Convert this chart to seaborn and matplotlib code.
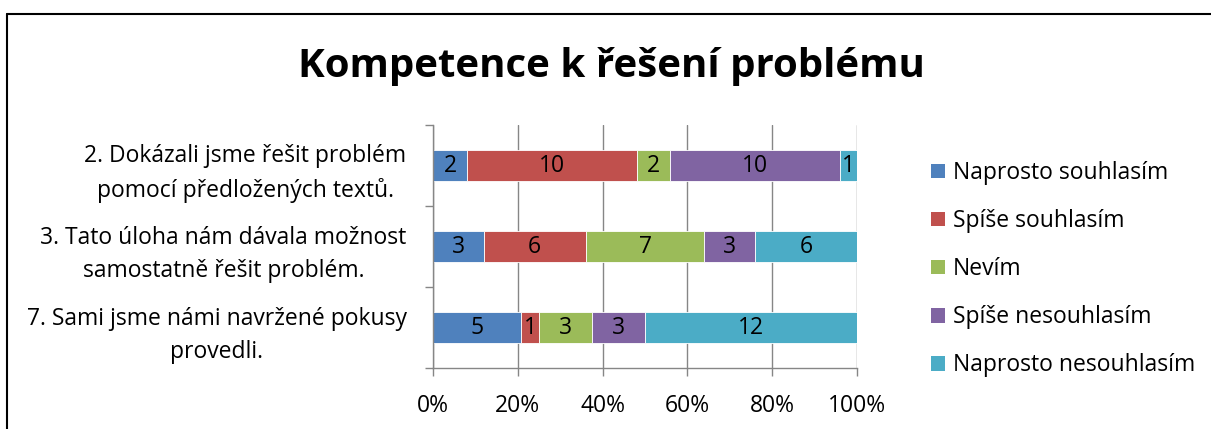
import pandas as pd
import matplotlib.pyplot as plt
import seaborn as sns
from matplotlib.lines import Line2D
from matplotlib.patches import Patch

# data
questions = [
    "2. Dokázali jsme řešit problém\npomocí předložených textů.",
    "3. Tato úloha nám dávala možnost\nsamostatně řešit problém.",
    "7. Sami jsme námi navržené pokusy\nprovedli.",
]
answers = ["Naprosto souhlasím", "Spíše souhlasím", "Nevím",
           "Spíše nesouhlasím", "Naprosto nesouhlasím"]
naprosto_souhlasim = [2, 3, 5]
spise_souhlasim = [10, 6, 1]
nevim = [2, 7, 3]
spise_nesouhlasim = [10, 3, 3]
naprosto_nesouhlasim = [1, 6, 12]
xtick_labels = ["0%", "20%", "40%", "60%", "80%", "100%"]

colors = ["#4F81BD", "#C0504D", "#9BBB59", "#8064A2", "#4BACC6"]

series = [naprosto_souhlasim, spise_souhlasim, nevim, spise_nesouhlasim, naprosto_nesouhlasim]
rows = []
for a, vals in zip(answers, series):
    for q, v in zip(questions, vals):
        rows.append({"question": q, "answer": a, "count": v})
df = pd.DataFrame(rows)
totals = df.groupby("question")["count"].sum()

sns.set_style("white")
plt.rcParams['font.family'] = ['Open Sans', 'DejaVu Sans']
plt.rcParams['text.color'] = 'black'
plt.rcParams['xtick.labelcolor'] = 'black'
plt.rcParams['ytick.labelcolor'] = 'black'

FS = 16.5

fig = plt.figure(figsize=(12.11, 4.29), dpi=100)
ax = fig.add_axes([433 / 1211, 1 - 368 / 429, 424 / 1211, 243 / 429])

# histplot stacks the last hue level at the base, so reverse
sns.histplot(data=df, y="question", hue="answer", weights="count",
             multiple="fill", discrete=True, shrink=0.38,
             hue_order=answers[::-1], palette=colors[::-1],
             alpha=1, edgecolor="white", linewidth=0.6,
             legend=False, ax=ax)

# value labels inside bars
qpos = {i: q for i, q in enumerate(questions)}
for p in ax.patches:
    w = p.get_width()
    if w <= 0:
        continue
    yc = p.get_y() + p.get_height() / 2
    q = qpos[int(round(yc))]
    n = int(round(w * totals[q]))
    ax.text(p.get_x() + w / 2, yc, str(n), ha="center", va="center",
            fontsize=FS, color="black")

ax.set_xlim(0, 1)
ax.set_ylim(2.5, -0.5)
ax.set_xticks([0, 0.2, 0.4, 0.6, 0.8, 1.0])
ax.set_xticklabels(xtick_labels, fontsize=FS)
ax.set_yticks(range(len(questions)))
ax.set_yticklabels(questions, fontsize=FS, multialignment="center", linespacing=1.5)
ax.set_yticks([-0.5, 0.5, 1.5, 2.5], minor=True)
ax.tick_params(axis="y", which="major", length=0, pad=19)
ax.tick_params(axis="y", which="minor", length=6, color="#868686", width=1, left=True)
ax.tick_params(axis="x", which="major", length=6, color="#868686", width=1, bottom=True, pad=13)
ax.set_xlabel("")
ax.set_ylabel("")
ax.grid(axis="x", color="#868686", linewidth=1)
ax.set_axisbelow(True)
for s in ["top", "right"]:
    ax.spines[s].set_visible(False)
for s in ["left", "bottom"]:
    ax.spines[s].set_color("#868686")
    ax.spines[s].set_linewidth(1)

fig.text(0.505, 1 - 67 / 429, "Kompetence k řešení problému", ha="center", va="center",
         fontsize=29, fontweight="bold")

handles = [Patch(facecolor=c, edgecolor="none") for c in colors]
fig.legend(handles, answers, loc="upper left", bbox_to_anchor=(922 / 1211, 1 - 152 / 429),
           frameon=False, fontsize=FS, handlelength=0.6, handleheight=0.6,
           handletextpad=0.35, labelspacing=1.05, borderaxespad=0)

# chart frame (cropped at right and bottom)
fig.add_artist(Line2D([7 / 1211, 1], [1 - 14 / 429, 1 - 14 / 429], color="black", linewidth=1.5))
fig.add_artist(Line2D([7 / 1211, 7 / 1211], [0, 1 - 14 / 429], color="black", linewidth=1.5))

fig.savefig("out.png", dpi=100)
